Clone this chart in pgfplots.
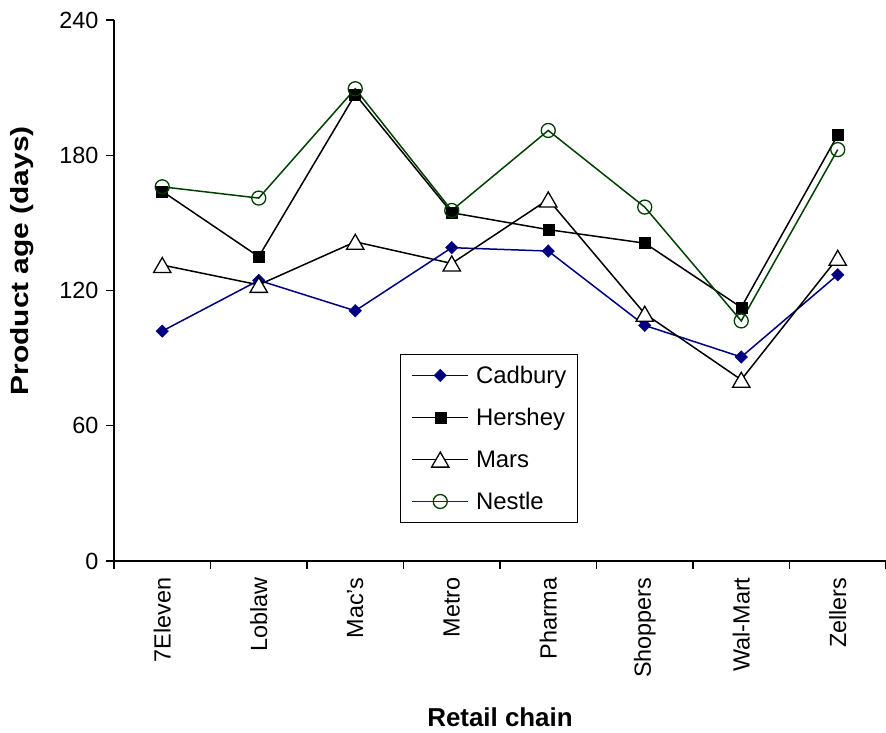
\documentclass[border=0pt]{standalone}
\usepackage{pgfplots}
\pgfplotsset{compat=1.18}
\usepackage{fontspec}
\setmainfont{Liberation Sans}
\definecolor{cadb}{RGB}{0,0,128}
\definecolor{nest}{RGB}{0,64,0}
\begin{document}
\begin{tikzpicture}
\begin{axis}[
  scale only axis,
  width=772bp, height=541bp,
  xmin=-0.5, xmax=7.5, ymin=0, ymax=240,
  axis x line*=bottom, axis y line*=left,
  axis line style={line width=1.2bp, -},
  xtick={-0.5,0.5,...,7.5},
  x tick label as interval,
  xticklabels={7Eleven,Loblaw,Mac's,Metro,Pharma,Shoppers,Wal-Mart,Zellers},
  ytick={0,60,120,180,240},
  tick align=outside,
  major tick length=8bp,
  tick style={line width=1.2bp, black},
  /pgf/number format/assume math mode=true,
  ticklabel style={font=\fontsize{23.5}{26}\selectfont},
  xticklabel style={rotate=90, anchor=east},
  xticklabel shift=5bp,
  yticklabel style={xshift=-4bp},
  xlabel={\fontsize{26}{28}\selectfont\bfseries Retail chain},
  ylabel={\scalebox{1.2}[1]{\fontsize{25}{28}\selectfont\bfseries Product age (days)}},
  xlabel style={at={(axis description cs:0.5,-0.288)}, anchor=center},
  ylabel style={at={(axis description cs:-0.119,0.555)}, anchor=center},
  legend style={at={(0.3705,0.3826)}, anchor=north west, draw=black, line width=1bp,
    font=\fontsize{24}{24}\selectfont, row sep=23.5bp, inner xsep=11bp, inner ysep=11.5bp,
    nodes={inner sep=0bp},
    /tikz/every odd column/.append style={column sep=7bp}},
  legend cell align=left,
  legend image code/.code={\draw[mark repeat=2,mark phase=2] plot coordinates {(0bp,0bp) (28bp,0bp) (56bp,0bp)};},
  every axis plot/.append style={line width=1.5bp},
  clip=false,
]
\addplot[cadb, mark=diamond*, mark size=6.2bp, mark options={fill=cadb, line width=0.5bp, xscale=1.33}] coordinates {
(0,102) (1,124.5) (2,111) (3,139) (4,137.5) (5,104.5) (6,90.5) (7,127)};
\addlegendentry{Cadbury}
\addplot[black, mark=square*, mark size=5.5bp, mark options={fill=black, line width=0.5bp}] coordinates {
(0,164) (1,135) (2,207) (3,154.5) (4,147) (5,141) (6,112.5) (7,189)};
\addlegendentry{Hershey}
\addplot[black, mark=triangle*, mark size=10bp, mark options={fill=white, line width=1.3bp, yshift=-2.5bp}] coordinates {
(0,131.3) (1,122.5) (2,141.6) (3,132) (4,160.4) (5,109.7) (6,80.4) (7,134.5)};
\addlegendentry{Mars}
\addplot[nest, mark=o, mark size=7bp, mark options={line width=1.3bp}] coordinates {
(0,166) (1,161) (2,209.5) (3,155.5) (4,191) (5,157) (6,106.5) (7,182.5)};
\addlegendentry{Nestle}
\end{axis}
\pgfresetboundingbox
\useasboundingbox (-114bp,-172bp) rectangle (772bp,561bp);
\end{tikzpicture}
\end{document}
